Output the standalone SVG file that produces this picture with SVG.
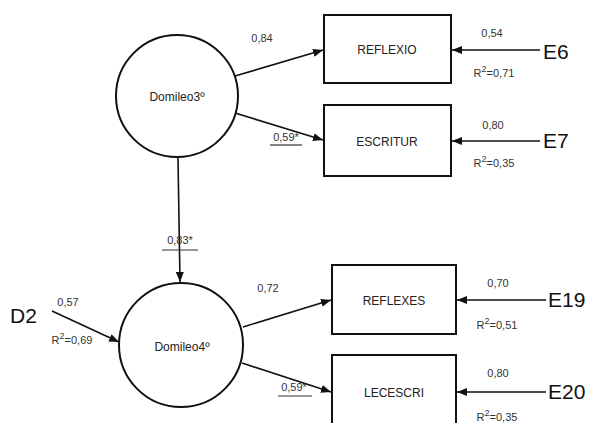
<svg xmlns="http://www.w3.org/2000/svg" width="589" height="423" viewBox="0 0 589 423">
<style>
.n{fill:#fff;stroke:#111;stroke-width:2}
.t{font-family:"Liberation Sans",Arial,sans-serif;fill:#222;text-anchor:middle}
.lab{font-size:12px}
.sm{font-size:11px;fill:#333}
.big{font-size:21px;fill:#111;text-anchor:start}
.c{stroke:#111;stroke-width:1.6;fill:none;marker-end:url(#ah)}
.u{stroke:#333;stroke-width:1.2}
</style>
<defs>
<marker id="ah" markerWidth="10" markerHeight="8" refX="10" refY="4" orient="auto" markerUnits="userSpaceOnUse">
<path d="M0,0 L10,4 L0,8 Z" fill="#111"/>
</marker>
</defs>
<rect width="589" height="423" fill="#fff"/>
<g id="connectors">
<line class="c" x1="235" y1="76" x2="323" y2="50"/>
<line class="c" x1="235" y1="113" x2="323" y2="140"/>
<line class="c" x1="178" y1="158" x2="180" y2="282"/>
<line class="c" x1="243" y1="327" x2="331" y2="300"/>
<line class="c" x1="242" y1="363" x2="331" y2="392"/>
<line class="c" x1="540" y1="50" x2="452" y2="50"/>
<line class="c" x1="540" y1="141" x2="452" y2="141"/>
<line class="c" x1="546" y1="300" x2="457" y2="300"/>
<line class="c" x1="546" y1="392" x2="457" y2="392"/>
<line class="c" x1="52" y1="311" x2="119" y2="342"/>
</g>
<g id="Domileo3">
<circle class="n" cx="177" cy="96" r="61"/>
<text class="t lab" x="177" y="101">Domileo3º</text>
</g>
<g id="Domileo4">
<circle class="n" cx="181" cy="345" r="62"/>
<text class="t lab" x="182" y="351">Domileo4º</text>
</g>
<g id="REFLEXIO">
<rect class="n" x="324" y="15" width="127" height="68"/>
<text class="t lab" x="387" y="54">REFLEXIO</text>
</g>
<g id="ESCRITUR">
<rect class="n" x="324" y="105" width="127" height="71"/>
<text class="t lab" x="387" y="146">ESCRITUR</text>
</g>
<g id="REFLEXES">
<rect class="n" x="332" y="265" width="124" height="69"/>
<text class="t lab" x="394" y="305">REFLEXES</text>
</g>
<g id="LECESCRI">
<rect class="n" x="332" y="355" width="124" height="70"/>
<text class="t lab" x="394" y="397">LECESCRI</text>
</g>
<g id="E6"><text class="t big" x="543" y="59">E6</text></g>
<g id="E7"><text class="t big" x="543" y="148">E7</text></g>
<g id="E19"><text class="t big" x="548" y="307">E19</text></g>
<g id="E20"><text class="t big" x="548" y="399">E20</text></g>
<g id="D2"><text class="t big" x="10" y="323">D2</text></g>
<g id="labels">
<text class="t sm" x="262" y="42">0,84</text>
<text class="t sm" x="286" y="141">0,59*</text>
<line class="u" x1="270" y1="145" x2="302" y2="145"/>
<text class="t sm" x="180" y="244">0,83*</text>
<line class="u" x1="162" y1="250" x2="198" y2="250"/>
<text class="t sm" x="268" y="292">0,72</text>
<text class="t sm" x="294" y="391">0,59*</text>
<line class="u" x1="278" y1="396" x2="312" y2="396"/>
<text class="t sm" x="492" y="37">0,54</text>
<text class="t sm" x="494" y="77">R<tspan dy="-5" font-size="9">2</tspan><tspan dy="5">=0,71</tspan></text>
<text class="t sm" x="493" y="129">0,80</text>
<text class="t sm" x="494" y="167">R<tspan dy="-5" font-size="9">2</tspan><tspan dy="5">=0,35</tspan></text>
<text class="t sm" x="498" y="287">0,70</text>
<text class="t sm" x="497" y="329">R<tspan dy="-5" font-size="9">2</tspan><tspan dy="5">=0,51</tspan></text>
<text class="t sm" x="498" y="377">0,80</text>
<text class="t sm" x="497" y="421">R<tspan dy="-5" font-size="9">2</tspan><tspan dy="5">=0,35</tspan></text>
<text class="t sm" x="68" y="306">0,57</text>
<text class="t sm" x="72" y="344">R<tspan dy="-5" font-size="9">2</tspan><tspan dy="5">=0,69</tspan></text>
</g>
</svg>
